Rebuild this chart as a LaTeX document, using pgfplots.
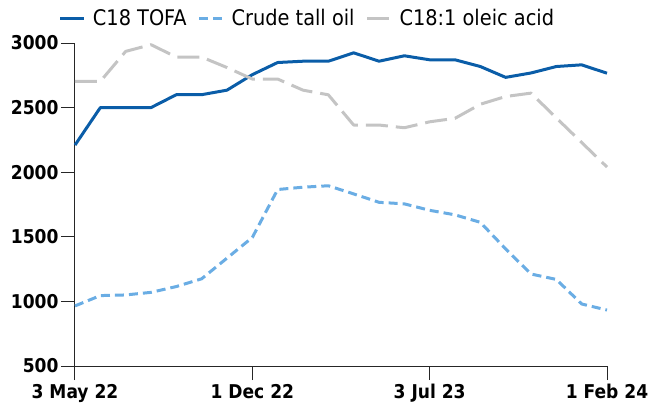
\documentclass[border=0pt]{standalone}
\usepackage{fontspec}
\setmainfont{DejaVu Sans Condensed}
\usepackage{pgfplots}
\pgfplotsset{compat=1.18}
\definecolor{tofa}{RGB}{10,93,168}
\definecolor{crude}{RGB}{106,173,228}
\definecolor{oleic}{RGB}{196,196,196}
\begin{document}
\begin{tikzpicture}
\begin{axis}[
  at={(0,0)}, anchor=south west,
  scale only axis, width=532pt, height=323pt,
  xmin=0, xmax=21, ymin=500, ymax=3000,
  axis lines=left, axis line style={-, draw=black!85, line width=1pt},
  xtick={0,7,14,21},
  xticklabels={3 May 22,1 Dec 22,3 Jul 23,1 Feb 24},
  ytick={500,1000,1500,2000,2500,3000},
  tick align=outside, major tick length=14pt,
  tick style={draw=black!85, line width=1pt},
  /pgf/number format/assume math mode=true,
  /pgf/number format/1000 sep={},
  tick label style={font=\fontsize{19pt}{22pt}\selectfont\bfseries},
  yticklabel style={xshift=1pt},
  xticklabel style={yshift=-1pt},
  legend columns=-1,
  legend style={at={(-0.0301,1.0774)}, anchor=west, draw=none, fill=none,
    inner sep=0pt, outer sep=0pt,
    font=\fontsize{21.5pt}{24pt}\selectfont,
    /tikz/every odd column/.append style={column sep=5pt},
    /tikz/every even column/.append style={column sep=9pt},
    nodes={inner xsep=2pt, inner ysep=0pt}},
  legend image code/.code={\draw[#1] (0pt,0pt) -- (24pt,0pt);},
  clip=false,
]
\addplot[color=tofa, line width=3pt, line join=round] coordinates {
(0,2210)(1,2500)(2,2500)(3,2500)(4,2600)(5,2600)(6,2635)(7,2755)(8,2849)(9,2859)(10,2859)(11,2924)(12,2859)(13,2901)(14,2870)(15,2870)(16,2818)(17,2734)(18,2768)(19,2818)(20,2831)(21,2766)};
\addlegendentry{C18 TOFA}
\addplot[color=crude, line width=3pt, dash pattern=on 9pt off 5pt, line join=round] coordinates {
(0,965)(1,1045)(2,1050)(3,1070)(4,1115)(5,1175)(6,1335)(7,1495)(8,1866)(9,1884)(10,1895)(11,1832)(12,1767)(13,1755)(14,1705)(15,1670)(16,1612)(17,1406)(18,1212)(19,1170)(20,980)(21,933)};
\addlegendentry{Crude tall oil}
\addplot[color=oleic, line width=3pt, dash pattern=on 22pt off 8pt, line join=round] coordinates {
(0,2703)(1,2703)(2,2935)(3,2987)(4,2891)(5,2891)(6,2810)(7,2721)(8,2721)(9,2635)(10,2599)(11,2365)(12,2365)(13,2344)(14,2390)(15,2417)(16,2526)(17,2586)(18,2612)(19,2420)(20,2230)(21,2040)};
\addlegendentry{C18:1 oleic acid}
\end{axis}
\pgfresetboundingbox
\path[use as bounding box] (-75pt,-47pt) rectangle (576pt,366pt);
\end{tikzpicture}
\end{document}
